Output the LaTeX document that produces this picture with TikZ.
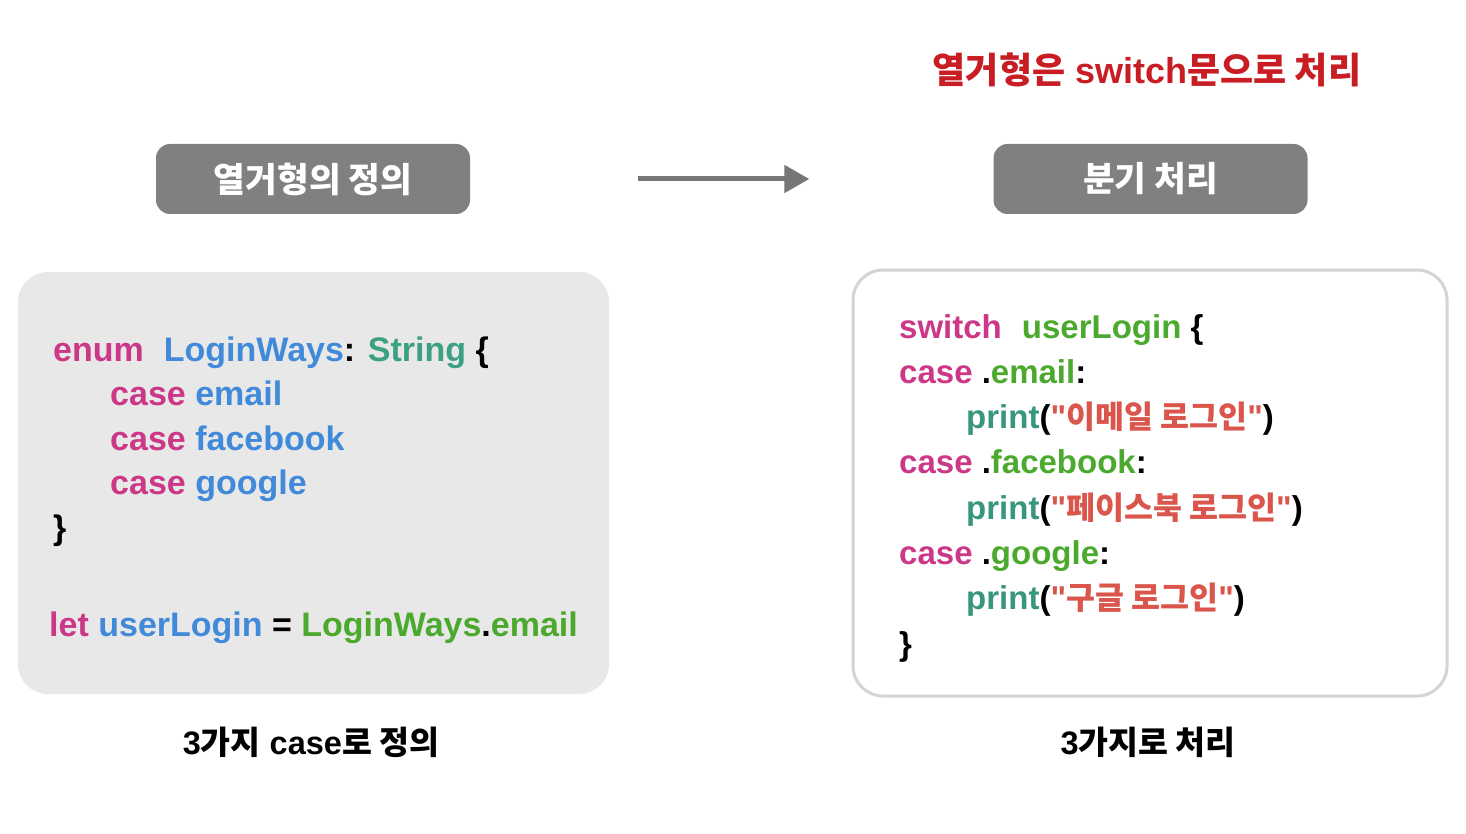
\documentclass[tikz,border=0pt]{standalone}
\usepackage{fontspec}
\setmainfont{Liberation Sans}[Ligatures=TeXOff]
\newfontfamily\krfont{Noto Sans CJK KR}
\usetikzlibrary{arrows.meta}
\definecolor{kwpink}{RGB}{205,55,135}
\definecolor{idblue}{RGB}{65,138,218}
\definecolor{tyteal}{RGB}{60,160,130}
\definecolor{idgreen}{RGB}{75,170,45}
\definecolor{prteal}{RGB}{55,150,125}
\definecolor{strred}{RGB}{218,85,75}
\definecolor{titlered}{RGB}{200,30,35}
\definecolor{headgray}{RGB}{128,128,128}
\definecolor{codebg}{RGB}{232,232,232}
\definecolor{boxline}{RGB}{212,212,212}
\definecolor{arrowgray}{RGB}{118,118,118}
\newcommand\cpk[1]{\textcolor{kwpink}{#1}}
\newcommand\cbl[1]{\textcolor{idblue}{#1}}
\newcommand\cty[1]{\textcolor{tyteal}{#1}}
\newcommand\cgr[1]{\textcolor{idgreen}{#1}}
\newcommand\cpr[1]{\textcolor{prteal}{#1}}
\newcommand\cst[1]{\textcolor{strred}{#1}}
\newcommand\kstr[1]{\cst{"{\krfont\fontsize{31.5}{36}\selectfont #1}"}}
\begin{document}
\begin{tikzpicture}[x=1pt,y=-1pt,
  code/.style={anchor=base west,inner sep=0pt,font=\fontsize{33}{40}\selectfont\bfseries},
  lcode/.style={code,font=\fontsize{34}{40}\selectfont\bfseries},
  headbox/.style={fill=headgray,rounded corners=14pt,minimum width=314pt,minimum height=70pt,inner sep=0pt,text=white,font=\krfont\fontsize{34.5}{40}\selectfont\bfseries},
  caption/.style={inner sep=0pt,font=\fontsize{32.5}{38}\selectfont\bfseries},
  flow/.style={draw=arrowgray,line width=5pt,-{Triangle[length=25pt,width=27pt]}}]
\useasboundingbox (0,0) rectangle (1466,834);
\fill[white] (0,0) rectangle (1466,834);

% title
\node[inner sep=0pt,text=titlered,font=\fontsize{36}{42}\selectfont\bfseries] (title) at (1147,70)
  {{\krfont 열거형은} switch{\krfont 문으로 처리}};

% headers
\node[headbox] (h1) at (313,179) {열거형의 정의};
\node[headbox] (h2) at (1150.5,179) {분기 처리};
\draw[flow] ([xshift=168pt]h1.east) -- ([xshift=-184pt]h2.west);

% code boxes
\node[fill=codebg,rounded corners=30pt,minimum width=591pt,minimum height=422pt,inner sep=0pt] (lbox) at (313.5,483) {};
\node[draw=boxline,line width=3pt,fill=white,rounded corners=30pt,minimum width=594pt,minimum height=426pt,inner sep=0pt] (rbox) at (1150,483) {};

% left code
\node[lcode] (l1) at (53,361) {\cpk{enum}\hspace{20pt}\cbl{LoginWays}: \cty{String} \{};
\node[lcode] (l2) at (110,405.5) {\cpk{case} \cbl{email}};
\node[lcode] (l3) at (110,450) {\cpk{case} \cbl{facebook}};
\node[lcode] (l4) at (110,494.5) {\cpk{case} \cbl{google}};
\node[lcode] (l5) at (53,539) {\}};
\node[lcode] (l6) at (49,636) {\cpk{let} \cbl{userLogin} = \cgr{LoginWays}.\cgr{email}};

% right code
\node[code] (r1) at (899,338) {\cpk{switch}\hspace{20pt}\cgr{userLogin} \{};
\node[code] (r2) at (899,383.3) {\cpk{case} .\cgr{email}:};
\node[code] (r3) at (966,428.6) {\cpr{print}(\kstr{이메일 로그인})};
\node[code] (r4) at (899,473.9) {\cpk{case} .\cgr{facebook}:};
\node[code] (r5) at (966,519.2) {\cpr{print}(\kstr{페이스북 로그인})};
\node[code] (r6) at (899,564.5) {\cpk{case} .\cgr{google}:};
\node[code] (r7) at (966,609.8) {\cpr{print}(\kstr{구글 로그인})};
\node[code] (r8) at (899,655.1) {\}};

% captions
\node[caption] (c1) at (311,742) {3{\krfont 가지} case{\krfont 로 정의}};
\node[caption] (c2) at (1148,742) {3{\krfont 가지로 처리}};
\end{tikzpicture}
\end{document}
